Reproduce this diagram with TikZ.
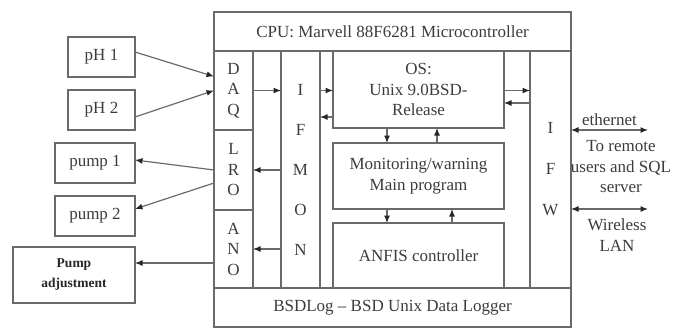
\documentclass[tikz,border=0pt]{standalone}
\usepackage{fontspec}
\setmainfont{Liberation Serif}
\usetikzlibrary{arrows.meta}
\definecolor{linegray}{HTML}{6A6A6A}
\definecolor{textgray}{HTML}{3C3C3C}
\tikzstyle{block} = [
    rectangle,
    draw=linegray,
    line width=1.2pt,
    outer sep=0pt,
    inner sep=0pt,
    align=center,
    text=textgray,
    font=\fontsize{17}{20.5}\selectfont
]
\tikzstyle{sensor} = [
    block,
    minimum width=67pt,
    minimum height=40pt
]
\tikzstyle{pump} = [
    block,
    minimum width=80pt,
    minimum height=40pt
]
\tikzstyle{band} = [
    block,
    minimum width=357pt,
    minimum height=39pt
]
\tikzstyle{port} = [block, minimum width=39pt]
\tikzstyle{task} = [block, minimum width=171pt]
\tikzstyle{textnote} = [
    text=textgray,
    align=center,
    inner sep=0pt,
    font=\fontsize{17}{20.5}\selectfont
]
\tikzstyle{arrow} = [draw=linegray,line width=1.2pt,->,
    >={Latex[length=7.5pt,width=6pt,color=black!85]}]
\tikzstyle{link} = [draw=linegray,line width=1.2pt,<->,
    >={Latex[length=7.5pt,width=6pt,color=black!85]}]

\begin{document}
\begin{tikzpicture}[x=1pt, y=-1pt]
\useasboundingbox (0,0) rectangle (673,332);

% processor board
\node (cpu) [band] at (392.5,31.5) {CPU: Marvell 88F6281 Microcontroller};
\node (bsdlog) [band] at (392.5,307.5) {BSDLog -- BSD Unix Data Logger};

\node (daq) [port, minimum height=79pt] at (233.5,90.5) {D\\A\\Q};
\node (lro) [port, minimum height=80pt] at (233.5,170) {L\\R\\O};
\node (ano) [port, minimum height=78pt] at (233.5,249) {A\\N\\O};

\node (ifmon) [port, minimum height=237pt, font=\fontsize{17}{40}\selectfont]
at (300.5,169.5) {I\\F\\M\\O\\N};

\node (os) [task, minimum height=77pt] at (418.5,89.5)
{OS:\\Unix 9.0BSD-\\Release};

\node (mon) [task, minimum height=66pt] at (418.5,176)
{Monitoring/warning\\Main program};

\node (anfis) [task, minimum height=65pt] at (418.5,255.5)
{ANFIS controller};

\node (ifw) [port, minimum width=41pt, minimum height=237pt, font=\fontsize{17}{41}\selectfont]
at (550.5,169.5) {I\\F\\W};

% sensors and actuators
\node (ph1) [sensor] at (101.5,57) {pH 1};
\node (ph2) [sensor] at (101.5,110) {pH 2};
\node (pump1) [pump] at (95,163) {pump 1};
\node (pump2) [pump] at (95,216) {pump 2};
\node (pumpadj) [block, minimum width=122pt, minimum height=56pt,
    font=\fontsize{13.5}{20}\selectfont\bfseries, text=black!85]
at (74,275) {Pump\\adjustment};

\draw [arrow] ([yshift=5pt]ph1.east) -- ([yshift=14pt]daq.west);
\draw [arrow] ([yshift=-7pt]ph2.east) -- (daq.west);
\draw [arrow] (lro.west) -- ([yshift=3pt]pump1.east);
\draw [arrow] ([yshift=-13pt]lro.west) -- ([yshift=7pt]pump2.east);
\coordinate (anoout) at ([yshift=-14pt]ano.west);
\draw [arrow] (anoout) -- (anoout -| pumpadj.east);

% inside the board
\draw [arrow] (daq.east) -- (daq.east -| ifmon.west);
\draw [arrow] (lro.east -| ifmon.west) -- (lro.east);
\draw [arrow] (ano.east -| ifmon.west) -- (ano.east);

\draw [arrow] (daq.east -| ifmon.east) -- (daq.east -| os.west);
\coordinate (osback) at ([yshift=11pt]os.south west);
\draw [arrow] (osback) -- (osback -| ifmon.east);

\draw [arrow] (daq.east -| os.east) -- (daq.east -| ifw.west);
\coordinate (ifwback) at ([yshift=-13.5pt]os.east);
\draw [arrow] (ifwback -| ifw.west) -- (ifwback);

\draw [arrow] ([xshift=-31.5pt]os.south) -- ([xshift=-31.5pt]mon.north);
\draw [arrow] ([xshift=18.5pt]mon.north) -- ([xshift=18.5pt]os.south);
\draw [arrow] ([xshift=-31.5pt]mon.south) -- ([xshift=-31.5pt]anfis.north);
\draw [arrow] ([xshift=33.5pt]anfis.north) -- ([xshift=33.5pt]mon.south);

% network side
\coordinate (ethend) at ([xshift=77pt,yshift=39.5pt]ifw.east);
\draw [link] ([yshift=39.5pt]ifw.east) -- (ethend)
node [midway, above=4pt, textnote] {ethernet};
\coordinate (wlanend) at ([xshift=77pt,yshift=-39.5pt]ifw.east);
\draw [link] ([yshift=-39.5pt]ifw.east) -- (wlanend);

\node (remote) [textnote] at (621,167) {To remote\\users and SQL\\server};
\node (wlan) [textnote] at (617,235) {Wireless\\LAN};

\end{tikzpicture}
\end{document}
